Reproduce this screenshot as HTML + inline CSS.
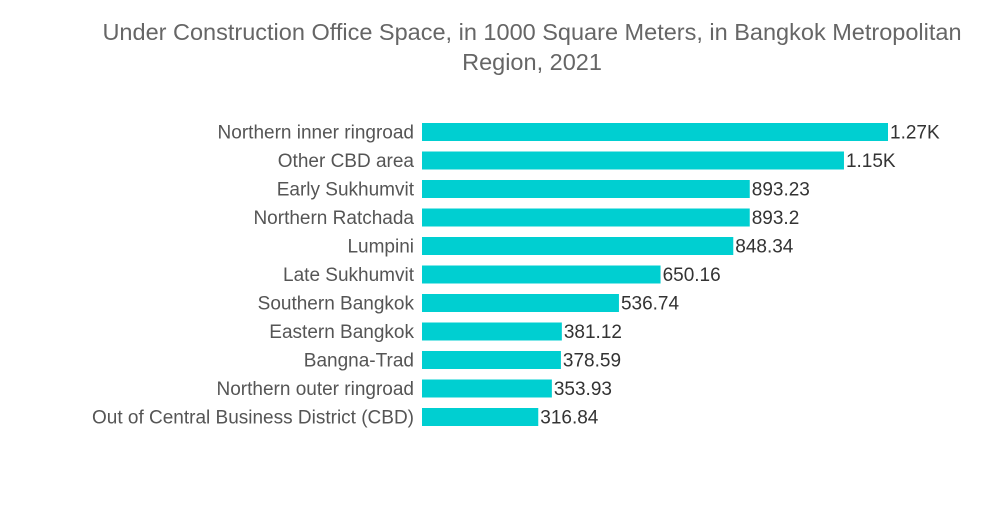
<!DOCTYPE html>
<html><head><meta charset="utf-8"><style>
body{margin:0;background:#fff;font-family:"Liberation Sans",sans-serif}
</style></head><body>
<svg id="chart" width="1000" height="504" xmlns="http://www.w3.org/2000/svg">
<text x="532" y="40" text-anchor="middle" font-size="23.5" fill="#666">Under Construction Office Space, in 1000 Square Meters, in Bangkok Metropolitan</text>
<text x="532" y="70" text-anchor="middle" font-size="23.5" fill="#666">Region, 2021</text>
<g id="bars"></g>
</svg>
<script>
const categories=["Northern inner ringroad","Other CBD area","Early Sukhumvit","Northern Ratchada","Lumpini","Late Sukhumvit","Southern Bangkok","Eastern Bangkok","Bangna-Trad","Northern outer ringroad","Out of Central Business District (CBD)"];
const values=[1270,1150,893.23,893.2,848.34,650.16,536.74,381.12,378.59,353.93,316.84];
const x0=422, pxPerUnit=466/1270, yTop=132, step=28.5, bh=18;
const xs=v=>x0+v*pxPerUnit;
const ys=i=>yTop+i*step;
const fmt=v=>v>=1000?(v/1000).toFixed(2)+"K":String(v);
const g=document.getElementById('bars');
const NS="http://www.w3.org/2000/svg";
categories.forEach((c,i)=>{
  const y=ys(i);
  const r=document.createElementNS(NS,'rect');
  
  
  r.setAttribute('x',x0);r.setAttribute('y',y-bh/2);
  r.setAttribute('width',xs(values[i])-x0);r.setAttribute('height',bh);
  r.setAttribute('fill','#00cfd1');g.appendChild(r);
  const l=document.createElementNS(NS,'text');
  
  
  l.setAttribute('x',414);l.setAttribute('y',y+6.5);l.setAttribute('text-anchor','end');
  l.setAttribute('font-size','19');l.setAttribute('fill','#555');l.textContent=c;g.appendChild(l);
  const t=document.createElementNS(NS,'text');
  
  
  t.setAttribute('x',xs(values[i])+2);t.setAttribute('y',y+6.5);
  t.setAttribute('font-size','19');t.setAttribute('fill','#333');t.textContent=fmt(values[i]);g.appendChild(t);
});
</script>
</body></html>
